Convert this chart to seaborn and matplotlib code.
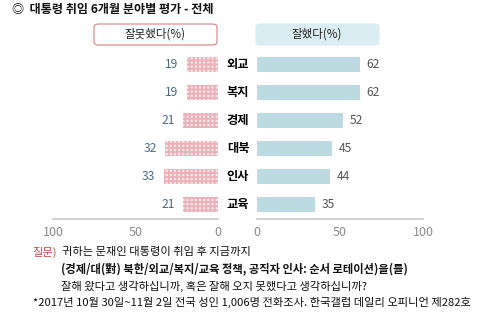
import matplotlib
matplotlib.use("Agg")
import matplotlib.pyplot as plt
from matplotlib.patches import FancyBboxPatch
import seaborn as sns
import pandas as pd

categories = ["외교", "복지", "경제", "대북", "인사", "교육"]
bad_values = [19, 19, 21, 32, 33, 21]
good_values = [62, 62, 52, 45, 44, 35]
tick_values = [0, 50, 100]

sns.set_theme(style="white")
plt.rcParams['font.family'] = ['Noto Sans CJK KR', 'DejaVu Sans']
plt.rcParams['hatch.linewidth'] = 1.4

df = pd.DataFrame({"cat": categories, "bad": bad_values, "good": good_values})

W, H = 487, 325
fig = plt.figure(figsize=(W / 100, H / 100), dpi=100)

def rect(x0, y0, x1, y1):
    return [x0 / W, 1 - y1 / H, (x1 - x0) / W, (y1 - y0) / H]

axL = fig.add_axes(rect(53, 50, 218, 219))
axR = fig.add_axes(rect(257, 50, 423, 219))

sns.barplot(data=df, y="cat", x="bad", orient="h", ax=axL, color="white", width=0.53)
sns.barplot(data=df, y="cat", x="good", orient="h", ax=axR, color="#b6dde8", width=0.53)

for p in axL.patches:
    p.set_facecolor("#fbe9eb")
    p.set_edgecolor("#eab2b8")
    p.set_hatch("++++")
    p.set_linewidth(0)
for p in axR.patches:
    p.set_linewidth(0)

axL.set_xlim(100, 0)
axR.set_xlim(0, 100)
gray = "#8a8a8a"
for ax in (axL, axR):
    ax.set_xlabel("")
    ax.set_ylabel("")
    ax.set_yticks([])
    ax.set_xticks(tick_values)
    ax.set_xticklabels([str(t) for t in tick_values], color=gray, fontsize=9)
    for s in ("top", "left", "right"):
        ax.spines[s].set_visible(False)
    ax.spines["bottom"].set_color("#c8c8c8")
    ax.spines["bottom"].set_linewidth(1.2)
    ax.tick_params(axis="x", direction="in", length=4, color="#c8c8c8", width=1.2, pad=5)
    ax.set_facecolor("none")

val_color = "#555555"
for i, v in enumerate(bad_values):
    axL.text(v + 5, i, str(v), ha="right", va="center", fontsize=8.7, color="#4d6a8c")
for i, v in enumerate(good_values):
    axR.text(v + 4, i, str(v), ha="left", va="center", fontsize=8.7, color=val_color)

# category labels
for i, c in enumerate(categories):
    y = 50 + (i + 0.5) * (169 / 6)
    fig.text(238 / W, 1 - y / H, c, ha="center", va="center", fontsize=8.8,
             fontweight="bold", color="#000000")

# title
fig.text(12 / W, 1 - 10 / H, "◎  대통령 취임 6개월 분야별 평가 - 전체", ha="left", va="center",
         fontsize=8.7, fontweight="bold", color="#111111")

# header boxes
boxL = FancyBboxPatch((94 / W, 1 - 45 / H), (217 - 94) / W, 21 / H,
                      boxstyle="round,pad=0,rounding_size=0.01", transform=fig.transFigure,
                      facecolor="white", edgecolor="#d98c94", linewidth=0.9)
boxR = FancyBboxPatch((256 / W, 1 - 45 / H), (379 - 256) / W, 21 / H,
                      boxstyle="round,pad=0,rounding_size=0.01", transform=fig.transFigure,
                      facecolor="#daedf3", edgecolor="#daedf3", linewidth=0.9)
fig.patches.extend([boxL, boxR])
fig.text(155 / W, 1 - 34.5 / H, "잘못했다(%)", ha="center", va="center", fontsize=8.3, color="#222222")
fig.text(317 / W, 1 - 34.5 / H, "잘했다(%)", ha="center", va="center", fontsize=8.3, color="#222222")

# footnotes
fs = 8.1
fig.text(32 / W, 1 - 252 / H, "질문)", ha="left", va="center", fontsize=fs, color="#c0504d")
fig.text(62 / W, 1 - 252 / H, "귀하는 문재인 대통령이 취임 후 지금까지", ha="left", va="center",
         fontsize=fs, color="#111111")
fig.text(61 / W, 1 - 269 / H, "(경제/대(對) 북한/외교/복지/교육 정책, 공직자 인사: 순서 로테이션)을(를)",
         ha="left", va="center", fontsize=fs, fontweight="bold", color="#111111")
fig.text(61 / W, 1 - 286 / H, "잘해 왔다고 생각하십니까, 혹은 잘해 오지 못했다고 생각하십니까?",
         ha="left", va="center", fontsize=fs, color="#111111")
fig.text(33 / W, 1 - 302 / H, "*2017년 10월 30일~11월 2일 전국 성인 1,006명 전화조사. 한국갤럽 데일리 오피니언 제282호",
         ha="left", va="center", fontsize=fs, color="#111111")

fig.savefig("out.png", dpi=100)
